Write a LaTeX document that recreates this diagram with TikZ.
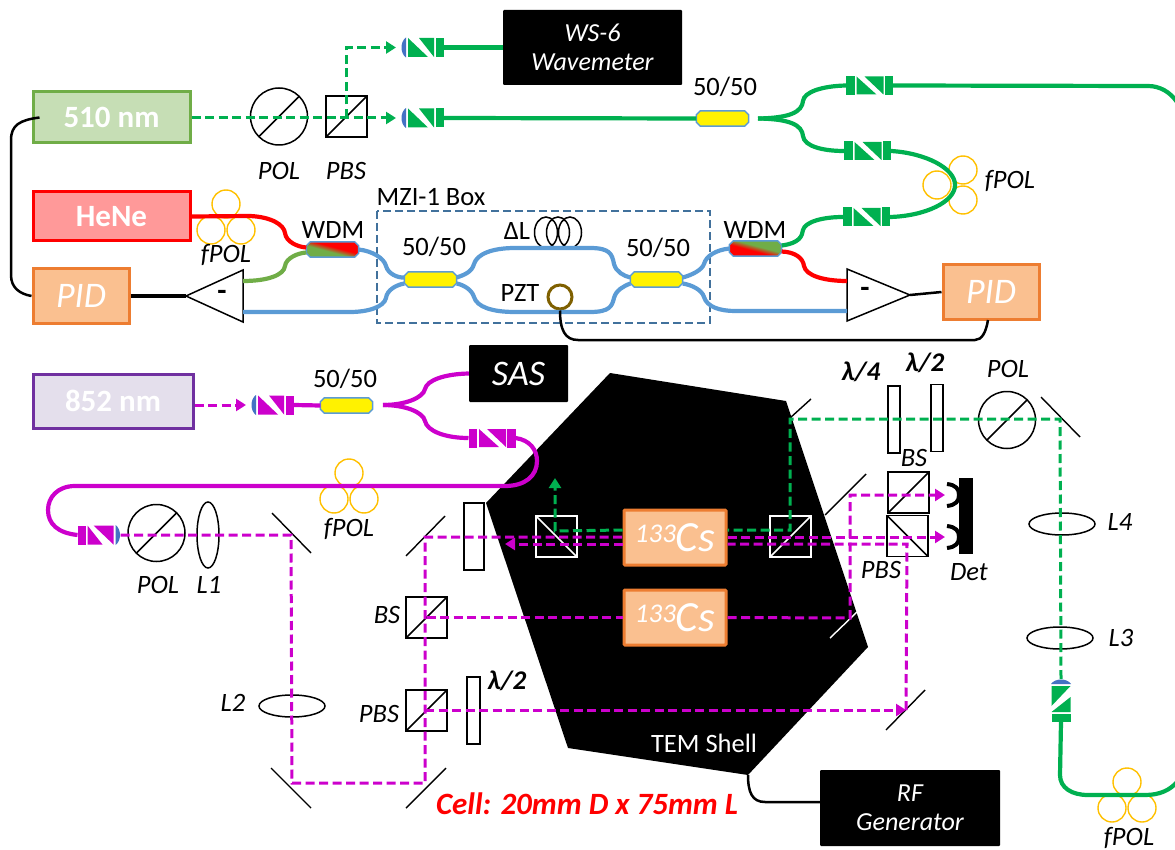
\documentclass[tikz,border=0pt]{standalone}
\usepackage{fontspec}
\setmainfont{Carlito}
\usetikzlibrary{arrows.meta,positioning,shapes.geometric,calc}
\usepackage{xcolor}
\definecolor{fibG}{HTML}{00B050}
\definecolor{fibL}{HTML}{70AD47}
\definecolor{fibB}{HTML}{5B9BD5}
\definecolor{fibM}{HTML}{CC00CC}
\definecolor{ringO}{HTML}{FFC000}
\definecolor{ringP}{HTML}{7F6000}
\definecolor{pidF}{HTML}{FAC090}
\definecolor{pidD}{HTML}{ED7D31}
\definecolor{mziD}{HTML}{41719C}
\definecolor{lensB}{HTML}{4472C4}
\definecolor{lasV}{HTML}{7030A0}
\definecolor{lasF}{HTML}{E4DFEC}
\pgfdeclarehorizontalshading{wdmshade}{100bp}{color(0bp)=(fibL); color(44bp)=(fibL); color(56bp)=(red); color(100bp)=(red)}
\newcommand{\csatom}{{\fontsize{27}{27}\selectfont\raisebox{9pt}{133}}{\fontsize{43}{43}\selectfont Cs}}

\begin{document}
\begin{tikzpicture}[
  x=1pt, y=-1pt,
  lab/.style={inner sep=0pt, align=center, font=\fontsize{26.5}{29}\selectfont},
  ilab/.style={lab, font=\fontsize{26.5}{29}\selectfont\itshape},
  wlab/.style={lab, text=white},
  plate/.style={ilab, font=\fontsize{27}{29}\selectfont\bfseries\itshape},
  laser/.style={draw=#1, line width=3pt, inner sep=0pt, text=white, font=\fontsize{31}{31}\selectfont\bfseries},
  pid/.style={draw=pidD, fill=pidF, line width=3pt, inner sep=0pt, text=white, font=\fontsize{36}{36}\selectfont\itshape, minimum width=96pt, minimum height=54pt},
  blk/.style={fill=black, rounded corners=1pt, inner sep=0pt, text=white, align=center, font=\fontsize{26}{29}\selectfont\itshape},
  cell/.style={draw=pidD, fill=pidF, line width=3pt, rounded corners=1pt, inner sep=0pt, text=white, font=\itshape, minimum width=102pt, minimum height=55pt},
  cpl/.style={inner sep=0pt, minimum width=52pt, minimum height=15pt, append after command={\pgfextra{
    \path[draw=fibB, line width=1.5pt, #1] ([xshift=4pt]\tikzlastnode.north west) -- ([xshift=-4pt]\tikzlastnode.north east) -- ([yshift=-4pt]\tikzlastnode.north east) -- ([yshift=4pt]\tikzlastnode.south east) -- ([xshift=-4pt]\tikzlastnode.south east) -- ([xshift=4pt]\tikzlastnode.south west) -- ([yshift=4pt]\tikzlastnode.south west) -- ([yshift=-4pt]\tikzlastnode.north west) -- cycle;
  }}},
  cpl/.default={fill=yellow},
  cubeup/.style={draw=#1, line width=1.5pt, inner sep=0pt, minimum size=41pt, path picture={\draw[#1, line width=1.5pt] (path picture bounding box.south west) -- (path picture bounding box.north east);}},
  cubeup/.default=black,
  cubedn/.style={draw=#1, line width=1.5pt, inner sep=0pt, minimum size=41pt, path picture={\draw[#1, line width=1.5pt] (path picture bounding box.north west) -- (path picture bounding box.south east);}},
  cubedn/.default=black,
  pol/.style={circle, draw, line width=1.5pt, inner sep=0pt, minimum size=57pt, path picture={\draw[line width=1.5pt] (path picture bounding box.south west) -- (path picture bounding box.north east);}},
  wplate/.style={draw, line width=1.3pt, fill=white, inner sep=0pt, minimum width=#1, minimum height=67pt},
  lensv/.style={ellipse, draw, line width=1.5pt, inner sep=0pt, minimum width=22pt, minimum height=66pt},
  lensh/.style={ellipse, draw, line width=1.5pt, inner sep=0pt, minimum width=66pt, minimum height=22pt},
  mirror/.style={line width=1.4pt},
  fib/.style={line width=4.2pt, draw=#1},
  sig/.style={line width=2.5pt, black},
  beam/.style={line width=3pt, draw=#1, dash pattern=on 9pt off 4.5pt},
  tip/.style={-{Triangle[length=10pt,width=12pt]}},
  amp/.style={draw, line width=1.5pt, fill=white},
  pics/lenscoll/.style={code={
    \fill[#1] (-15,-9.5) -- (-15,9.5) -- (5,9.5) -- cycle;
    \fill[#1] (-4,-9.5) -- (11,-9.5) -- (11,9.5) -- cycle;
    \fill[#1] (13,-9.5) rectangle (21,9.5);
    \fill[lensB] (-17,-10) .. controls (-23,-6) and (-23,6) .. (-17,10) -- cycle;
    \coordinate (-in) at (-27,0);
    \coordinate (-tip) at (-22,0);
    \coordinate (-out) at (21,0);
  }},
  pics/dblcoll/.style={code={
    \fill[#1] (-23.5,-9.5) rectangle (-15,9.5);
    \fill[#1] (-13,-9) -- (-13,9) -- (7,9) -- cycle;
    \fill[#1] (-5,-9) -- (14,-9) -- (14,9) -- cycle;
    \fill[#1] (15,-9.5) rectangle (23.5,9.5);
    \coordinate (-l) at (-23.5,0);
    \coordinate (-r) at (23.5,0);
  }},
  pics/fpol/.style={code={
    \draw[ringO, line width=1.4pt] (0,-17) circle[radius=14pt] (-15,9) circle[radius=14pt] (15,9) circle[radius=14pt];
  }}
]
\useasboundingbox (0,0) rectangle (1175,850);

% shell
\fill[black] (610,373) -- (786,401) -- (868,647) -- (748,775) -- (568,748) -- (486,503) -- cycle;
\node[wlab] (temShell) at (704,743) {TEM Shell};

% sources and boxes
\node[laser=fibL, fill=fibL!40, minimum width=157pt, minimum height=51pt] (l510) at (111.5,117.5) {510 nm};
\node[laser=red, fill=red!40, minimum width=157pt, minimum height=49pt] (hene) at (111.5,216.5) {HeNe};
\node[laser=lasV, fill=lasF, minimum width=160pt, minimum height=54pt] (l852) at (113,401) {852 nm};
\node[pid] (pidL) at (81,296) {PID};
\node[pid] (pidR) at (991,292) {PID};
\node[blk, minimum width=179pt, minimum height=75pt] (wsSix) at (592.5,47.5) {WS-6\\Wavemeter};
\node[blk, font=\fontsize{36}{36}\selectfont\itshape, minimum width=99pt, minimum height=57pt] (sas) at (518.5,373.5) {SAS};
\node[blk, minimum width=180pt, minimum height=76pt] (rfGen) at (910,808) {RF\\Generator};
\node[cell] (csA) at (675,537.5) {\csatom};
\node[cell] (csB) at (675,617.5) {\csatom};

% bulk optics, top
\node[pol] (polA) at (279,116.5) {};
\node[cubeup, minimum size=41pt] (pbsA) at (346.5,116.5) {};
\node[ilab] (polAlab) at (279,171) {POL};
\node[ilab] (pbsAlab) at (346,171) {PBS};

% bulk optics, lower left
\node[pol] (polB) at (156.5,533) {};
\node[lensv] (lensA) at (208,535) {};
\node[ilab] (polBlab) at (158,585) {POL};
\node[ilab] (lensAlab) at (209,585) {L1};
\node[lensh] (lensB) at (292,706) {};
\node[ilab] (lensBlab) at (233,703) {L2};
\node[wplate=20pt] (wpA) at (474,536.5) {};
\node[cubeup] (bsA) at (426.5,617.5) {};
\node[cubeup] (pbsB) at (426.5,710.5) {};
\node[ilab] (bsAlab) at (387,615) {BS};
\node[ilab] (pbsBlab) at (379,714) {PBS};
\node[wplate=13pt] (wpB) at (473.5,710.5) {};
\node[plate] (wpBlab) at (507,681) {λ/2};

% bulk optics, inside the shell and right
\node[cubedn=white] (bsB) at (556.5,536.5) {};
\node[cubeup=white] (bsC) at (790.5,536.5) {};
\node[cubeup] (bsD) at (908.5,492.5) {};
\node[cubedn] (pbsC) at (907.5,536) {};
\node[ilab] (bsDlab) at (914,458) {BS};
\node[ilab] (pbsClab) at (881,570) {PBS};
\node[wplate=12pt] (wpC) at (894,419.5) {};
\node[wplate=12pt] (wpD) at (937,418) {};
\node[plate] (wpClab) at (861,372) {λ/4};
\node[plate] (wpDlab) at (925,363) {λ/2};
\node[pol] (polC) at (1007,420) {};
\node[ilab] (polClab) at (1008,369) {POL};
\node[lensh] (lensC) at (1062,524) {};
\node[lensh] (lensD) at (1060,638) {};
\node[ilab] (lensClab) at (1120,522) {L4};
\node[ilab] (lensDlab) at (1121,638) {L3};

% detector
\node[fill=black, inner sep=0pt, minimum width=14pt, minimum height=76pt] (det) at (966,516) {};
\foreach \dy in {495,537}
  \draw[line width=4pt] (947,\dy-11) .. controls (956,\dy-10) and (959,\dy-6) .. (959,\dy) .. controls (959,\dy+6) and (956,\dy+10) .. (947,\dy+11);
\node[ilab] (detlab) at (969,572) {Det};

% mirrors
\foreach \xa/\ya/\xb/\yb in {272/513/311/553, 406/556/445/516, 271/768/311/808, 406/808/446/768, 790/418/811/399, 825/515/866/474, 1041/397/1080/437, 886/730/925/690}
  \draw[mirror] (\xa,\ya) -- (\xb,\yb);
\draw[mirror, white] (830,638) -- (857,612);

% couplers
\node[cpl] (cplTop) at (722.5,118.5) {};
\node[cpl] (cplM) at (346.5,405.5) {};
\node[cpl] (cplL) at (430.5,279.5) {};
\node[cpl] (cplR) at (656.5,279.5) {};
\node[cpl={shade, shading=wdmshade, shading angle=75}] (wdmL) at (332.5,249.5) {};
\node[cpl={shade, shading=wdmshade, shading angle=-105}] (wdmR) at (755.5,248.5) {};
\node[lab] (cplToplab) at (725,87) {50/50};
\node[lab] (cplMlab) at (345,379) {50/50};
\node[lab] (cplLlab) at (434,247) {50/50};
\node[lab] (cplRlab) at (658,248) {50/50};
\node[lab] (wdmLlab) at (333,230) {WDM};
\node[lab] (wdmRlab) at (755,230) {WDM};

% MZI box
\draw[mziD, line width=1.5pt, dash pattern=on 8pt off 4pt] (377,211) rectangle (710,323);
\node[lab] (mziLab) at (431,197) {MZI-1 Box};
\node[lab] (dlLab) at (517,231) {ΔL};
\node[lab] (pztLab) at (520,293) {PZT};
\foreach \cx in {546,558,570}
  \draw[line width=1.5pt] (\cx,232.5) ellipse[x radius=11.5pt, y radius=15.5pt];
\node[circle, draw=ringP, line width=3pt, inner sep=0pt, minimum size=24pt] (pzt) at (560,297) {};

% amplifiers
\draw[amp] (186,296) coordinate (ampLo) -- (243,270) -- (243,322) -- cycle;
\draw[amp] (910,295) coordinate (ampRo) -- (847,269) -- (847,321) -- cycle;
\coordinate (ampLg) at (243,281);
\coordinate (ampLb) at (243,312);
\coordinate (ampRr) at (847,281);
\coordinate (ampRb) at (847,311);
\node[lab, font=\fontsize{30}{30}\selectfont\bfseries] (ampLm) at (222,295) {-};
\node[lab, font=\fontsize{30}{30}\selectfont\bfseries] (ampRm) at (865,292) {-};

% collimators
\pic (cGa) at (423,47.5) {lenscoll=fibG};
\pic (cGb) at (423,118) {lenscoll=fibG};
\pic (cGc) at (869.5,85.5) {dblcoll=fibG};
\pic (cGd) at (867.5,151) {dblcoll=fibG};
\pic (cGe) at (866.5,217) {dblcoll=fibG};
\pic[rotate=-90] (cGf) at (1061,701) {lenscoll=fibG};
\pic (cMa) at (273,405) {lenscoll=fibM};
\pic (cMb) at (492,438) {dblcoll=fibM};
\pic[rotate=180] (cMc) at (98.5,535) {lenscoll=fibM};

% fibre paddles
\pic (fpolA) at (226,221) {fpol};
\pic[rotate=90] (fpolB) at (954,185) {fpol};
\pic (fpolC) at (349,490) {fpol};
\pic (fpolD) at (1127,799) {fpol};
\node[ilab] (fpolAlab) at (226,255) {fPOL};
\node[ilab] (fpolBlab) at (1010,181) {fPOL};
\node[ilab] (fpolClab) at (349,529) {fPOL};
\node[ilab] (fpolDlab) at (1129,838) {fPOL};

% fibres, green
\coordinate (forkG) at (758,118.5);
\draw[fib=fibG] (cGa-out) -- (wsSix.west);
\draw[fib=fibG] (cGb-out) -- (cplTop.west);
\draw[fib=fibG] (forkG) .. controls (790,118) and (802,112) .. (803,101) .. controls (804,92) and (822,86) .. (cGc-l);
\draw[fib=fibG] (forkG) .. controls (790,119) and (802,125) .. (803,136) .. controls (804,146) and (822,151) .. (cGd-l);
\draw[fib=fibG] (cGc-r) -- (1148,86) .. controls (1160,86) and (1170,92) .. (1177,102);
\draw[fib=fibG] (cGd-r) .. controls (925,153) and (955,168) .. (955,185) .. controls (955,202) and (925,216) .. (cGe-r);
\draw[fib=fibG] ([yshift=3pt]wdmR.east) .. controls (800,243) and (802,236) .. (803,230) .. controls (805,222) and (822,217) .. (cGe-l);
\draw[fib=fibG] (cGf-out) -- (1060,775) .. controls (1060,788) and (1072,795) .. (1088,795) -- (1145,795) .. controls (1160,795) and (1170,790) .. (1177,782);

% fibres, red and light green
\draw[fib=red] (hene.east) -- (250,216) .. controls (272,217) and (284,225) .. (285,233) .. controls (286,242) and (298,247) .. ([yshift=2pt]wdmL.west);
\draw[fib=fibL] ([yshift=-3pt]wdmL.west) .. controls (298,253) and (286,258) .. (285,266) .. controls (284,275) and (268,281) .. (ampLg);
\draw[fib=red] ([yshift=-3pt]wdmR.east) .. controls (795,252) and (803,258) .. (804,266) .. controls (806,276) and (825,281) .. (ampRr);

% fibres, blue
\draw[fib=fibB] (wdmL.east) .. controls (372,251) and (384,258) .. (386,266) .. controls (388,274) and (398,278) .. ([yshift=2pt]cplL.west);
\draw[fib=fibB] ([yshift=-4pt]cplL.west) .. controls (396,285) and (387,290) .. (386,298) .. controls (384,307) and (368,312) .. (350,312) -- (ampLb);
\draw[fib=fibB] ([yshift=2pt]cplL.east) .. controls (464,275) and (472,272) .. (474,264) .. controls (477,254) and (492,248) .. (515,248) -- (590,248) .. controls (610,248) and (612,254) .. (614,264) .. controls (616,272) and (624,276) .. ([yshift=2pt]cplR.west);
\draw[fib=fibB] ([yshift=-4pt]cplL.east) .. controls (464,285) and (472,290) .. (474,297) .. controls (477,307) and (492,312) .. (515,312) -- (590,312) .. controls (610,312) and (612,306) .. (614,298) .. controls (616,290) and (624,286) .. ([yshift=-4pt]cplR.west);
\draw[fib=fibB] ([yshift=2pt]cplR.east) .. controls (692,275) and (702,270) .. (704,264) .. controls (706,256) and (716,250) .. (wdmR.west);
\draw[fib=fibB] ([yshift=-4pt]cplR.east) .. controls (692,285) and (702,290) .. (704,297) .. controls (707,307) and (720,311) .. (735,311) -- (ampRb);

% fibres, magenta
\coordinate (forkM) at (383,405);
\draw[fib=fibM] (cMa-out) -- (cplM.west);
\draw[fib=fibM] (forkM) .. controls (405,405) and (423,398) .. (425,389) .. controls (427,380) and (445,374) .. (sas.west);
\draw[fib=fibM] (forkM) .. controls (405,405) and (423,412) .. (425,421) .. controls (427,431) and (445,438) .. (cMb-l);
\draw[fib=fibM] (cMb-r) .. controls (530,440) and (537,450) .. (537,461) .. controls (537,476) and (525,486) .. (505,486) -- (75,486) .. controls (58,486) and (48,497) .. (48,510) .. controls (48,524) and (58,533) .. (cMc-out);

% electrical lines
\draw[sig] ([xshift=8pt]l510.west) .. controls (20,120) and (11,125) .. (11,140) -- (11,275) .. controls (11,288) and (20,294) .. (pidL.west);
\draw[sig, line width=4pt] (pidL.east) -- (ampLo);
\draw[sig] (ampRo) -- (pidR.west);
\draw[sig] (pzt.south) .. controls (560,330) and (565,340) .. (578,340) -- (975,340) .. controls (982,340) and (986,332) .. (988,320);
\draw[sig] (748,775) .. controls (748,792) and (752,802) .. (765,802) -- (rfGen.west |- 0,802);

% beams, green
\coordinate (gbA) at (1060,419);
\coordinate (gbB) at (790,419);
\coordinate (gbC) at (790,530);
\coordinate (gbD) at (555,531);
\coordinate (gbE) at (555,478);
\draw[beam=fibG, tip] (l510.east |- cGb-in) -- (cGb-in);
\draw[beam=fibG, tip] (pbsA.center |- cGb-in) -- (pbsA.center |- cGa-in) -- (cGa-in);
\draw[beam=fibG] (cGf-tip) -- (gbA) -- (gbB) -- (gbC) -- (csA.east |- gbC);
\draw[beam=fibG, tip] (csA.west |- gbC) -- (gbD) -- (gbE);

% beams, magenta
\coordinate (mbA) at (291,535);
\coordinate (mbB) at (292,783);
\coordinate (mbC) at (425,783);
\coordinate (mbD) at (425,537);
\coordinate (mbE) at (850,618);
\coordinate (mbF) at (850,495);
\coordinate (mbG) at (945,495);
\coordinate (mbH) at (945,537);
\coordinate (mbI) at (425,710);
\coordinate (mbJ) at (906,710);
\coordinate (mbK) at (907,544);
\coordinate (mbL) at (505,544);
\draw[beam=fibM, tip] (l852.east |- cMa-in) -- (cMa-in);
\draw[beam=fibM] (cMc-tip) -- (mbA) -- (mbB) -- (mbC) -- (mbD) -- (csA.west |- mbD);
\draw[beam=fibM, tip] (csA.east |- mbD) -- (mbH);
\draw[beam=fibM] (bsA.center) -- (csB.west |- bsA);
\draw[beam=fibM, tip] (csB.east |- bsA) -- (mbE) -- (mbF) -- (mbG);
\draw[beam=fibM, tip] (mbI) -- (mbJ);
\draw[beam=fibM] (mbJ) -- (mbK) -- (csA.east |- mbK);
\draw[beam=fibM, tip] (csA.west |- mbK) -- (mbL);

% note
\node[lab, text=red, font=\fontsize{31}{31}\selectfont\bfseries\itshape] (cellNote) at (587,804) {Cell: 20mm D x 75mm L};
\end{tikzpicture}
\end{document}
